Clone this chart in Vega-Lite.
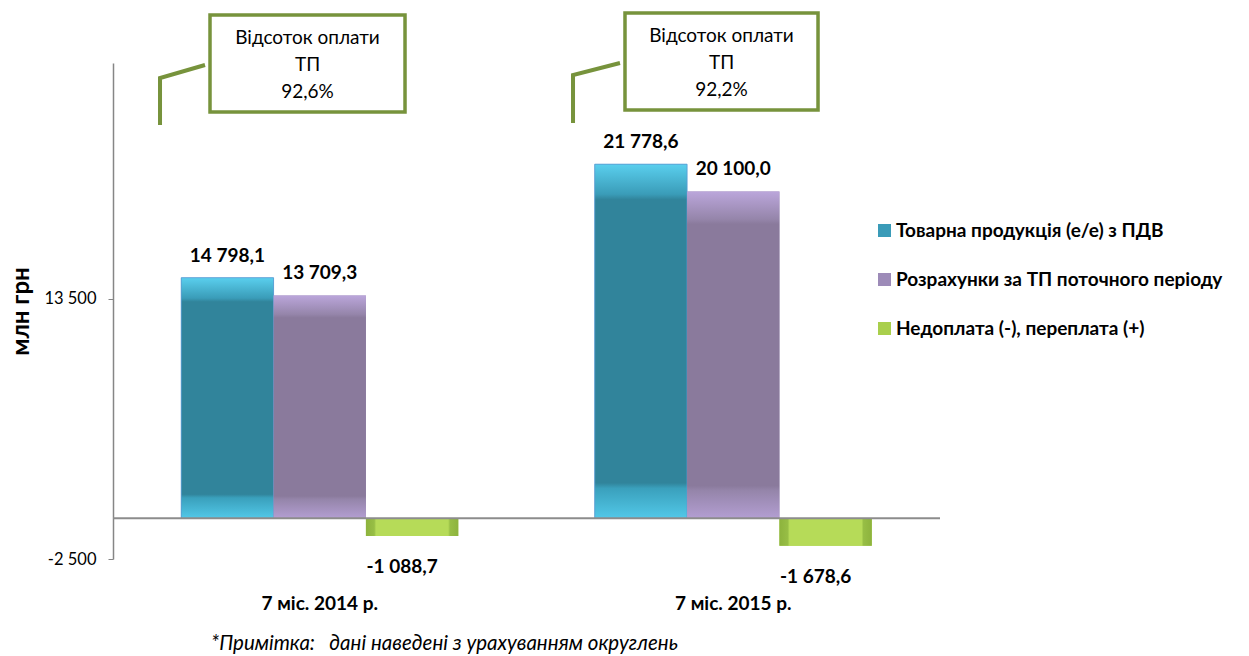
{
  "$schema": "https://vega.github.io/schema/vega-lite/v6.json",
  "width": 827,
  "height": 496,
  "autosize": "none",
  "padding": {"left": 113, "top": 63, "right": 309, "bottom": 97},
  "config": {
    "font": "Lato",
    "view": {"stroke": null},
    "locale": {"number": {"decimal": ",", "thousands": " ", "grouping": [3], "currency": ["", ""], "minus": "-"}}
  },
  "datasets": {
    "bars": [
      {"period": "7 міс. 2014 р.", "series": "Товарна продукція (е/е) з ПДВ", "value": 14798.1},
      {"period": "7 міс. 2014 р.", "series": "Розрахунки за ТП поточного періоду", "value": 13709.3},
      {"period": "7 міс. 2014 р.", "series": "Недоплата (-), переплата (+)", "value": -1088.7},
      {"period": "7 міс. 2015 р.", "series": "Товарна продукція (е/е) з ПДВ", "value": 21778.6},
      {"period": "7 міс. 2015 р.", "series": "Розрахунки за ТП поточного періоду", "value": 20100.0},
      {"period": "7 міс. 2015 р.", "series": "Недоплата (-), переплата (+)", "value": -1678.6}
    ],
    "boxes": [
      {"box": 1, "ax": 0.2346, "ax2": 0.7062, "v": 30952, "v2": 24987},
      {"box": 2, "ax": 1.2382, "ax2": 1.7050, "v": 31075, "v2": 25110}
    ],
    "boxtext": [
      {"box": 1, "ax": 0.4704, "v": 29537, "t": "Відсоток оплати"},
      {"box": 1, "ax": 0.4704, "v": 27877, "t": "ТП"},
      {"box": 1, "ax": 0.4704, "v": 26217, "t": "92,6%"},
      {"box": 2, "ax": 1.4716, "v": 29660, "t": "Відсоток оплати"},
      {"box": 2, "ax": 1.4716, "v": 28000, "t": "ТП"},
      {"box": 2, "ax": 1.4716, "v": 26340, "t": "92,2%"}
    ],
    "callout": [
      {"id": 1, "ord": 1, "ax": 0.1137, "v": 24188},
      {"id": 1, "ord": 2, "ax": 0.1137, "v": 27078},
      {"id": 1, "ord": 3, "ax": 0.2225, "v": 27877},
      {"id": 2, "ord": 1, "ax": 1.1125, "v": 24311},
      {"id": 2, "ord": 2, "ax": 1.1125, "v": 27262},
      {"id": 2, "ord": 3, "ax": 1.2261, "v": 28000}
    ]
  },
  "layer": [
    {
      "data": {"name": "bars"},
      "encoding": {
        "x": {
          "field": "period", "type": "nominal", "sort": null,
          "scale": {"paddingInner": 0.33, "paddingOuter": 0.165},
          "axis": {
            "title": "*Примітка:\u00a0\u00a0\u00a0дані наведені з урахуванням округлень",
            "titleFontStyle": "italic", "titleFontWeight": "normal", "titleFontSize": 20.5, "titleColor": "#000000",
            "titleX": 331, "titleY": 84, "titleBaseline": "middle", "titleAlign": "center",
            "domain": false, "ticks": false, "labelAngle": 0,
            "labelFontWeight": "bold", "labelFontSize": 19, "labelColor": "#000000", "labelPadding": 35
          }
        },
        "xOffset": {
          "field": "series", "type": "nominal", "sort": null,
          "scale": {"domain": ["Товарна продукція (е/е) з ПДВ", "Розрахунки за ТП поточного періоду", "Недоплата (-), переплата (+)"], "paddingInner": 0, "paddingOuter": 0}
        },
        "y": {
          "field": "value", "type": "quantitative",
          "scale": {"domain": [-2500, 28000], "nice": false, "zero": false},
          "axis": {
            "values": [-2500, 13500], "format": ",d", "grid": false,
            "domainColor": "#868686", "domainWidth": 1.5, "tickColor": "#868686", "tickSize": 5,
            "labelFontSize": 16.5, "labelColor": "#000000", "labelPadding": 12,
            "title": "млн грн", "titleFontSize": 24, "titleFontWeight": "bold", "titleColor": "#000000", "titlePadding": 10
          }
        }
      },
      "layer": [
        {
          "mark": {"type": "bar"},
          "encoding": {
            "color": {
              "field": "series", "type": "nominal", "sort": null,
              "scale": {"domain": ["Товарна продукція (е/е) з ПДВ", "Розрахунки за ТП поточного періоду", "Недоплата (-), переплата (+)"], "range": ["#3A9BB8", "#9D8BB8", "#A9CF4C"]},
              "legend": {
                "title": null, "orient": "none", "legendX": 762, "legendY": 158,
                "symbolType": "square", "symbolSize": 169, "symbolStrokeWidth": 0,
                "labelFontSize": 19, "labelFontWeight": "bold", "labelColor": "#000000", "labelLimit": 480,
                "labelOffset": 2, "rowPadding": 29
              }
            }
          }
        },
        {
          "transform": [{"filter": "datum.series == 'Товарна продукція (е/е) з ПДВ'"}],
          "mark": {"type": "bar", "fill": {"gradient": "linear", "x1": 0, "y1": 0, "x2": 0, "y2": 1, "stops": [
            {"offset": 0, "color": "#5ACFEE"}, {"offset": 0.085, "color": "#3A9CB8"}, {"offset": 0.1, "color": "#31849B"},
            {"offset": 0.9, "color": "#31849B"}, {"offset": 0.915, "color": "#3AA0BC"}, {"offset": 1, "color": "#52C8E8"}]}, "stroke": "#5B9BD5", "strokeWidth": 0.8}
        },
        {
          "transform": [{"filter": "datum.series == 'Розрахунки за ТП поточного періоду'"}],
          "mark": {"type": "bar", "fill": {"gradient": "linear", "x1": 0, "y1": 0, "x2": 0, "y2": 1, "stops": [
            {"offset": 0, "color": "#BBA6DB"}, {"offset": 0.085, "color": "#9585AA"}, {"offset": 0.1, "color": "#8A7A9C"},
            {"offset": 0.9, "color": "#8A7A9C"}, {"offset": 0.915, "color": "#9585AA"}, {"offset": 1, "color": "#B39ED2"}]}}
        },
        {
          "transform": [{"filter": "datum.series == 'Недоплата (-), переплата (+)'"}],
          "mark": {"type": "bar", "fill": {"gradient": "linear", "x1": 0, "y1": 0, "x2": 1, "y2": 0, "stops": [
            {"offset": 0, "color": "#8DB33D"}, {"offset": 0.09, "color": "#97BE45"}, {"offset": 0.11, "color": "#B6DB58"},
            {"offset": 0.89, "color": "#B6DB58"}, {"offset": 0.91, "color": "#97BE45"}, {"offset": 1, "color": "#8DB33D"}]}}
        },
        {
          "transform": [{"filter": "datum.value > 0"}],
          "mark": {"type": "text", "baseline": "bottom", "dy": -12, "fontSize": 19, "fontWeight": "bold", "color": "#000000"},
          "encoding": {"text": {"field": "value", "type": "quantitative", "format": ",.1f"}}
        },
        {
          "transform": [{"filter": "datum.value < 0"}],
          "mark": {"type": "text", "baseline": "top", "dy": 22, "dx": -10, "fontSize": 19, "fontWeight": "bold", "color": "#000000"},
          "encoding": {"text": {"field": "value", "type": "quantitative", "format": ",.1f"}}
        }
      ]
    },
    {
      "data": {"values": [{"zero": 0}]},
      "mark": {"type": "rule", "color": "#8C8C8C", "strokeWidth": 2},
      "encoding": {"y": {"field": "zero", "type": "quantitative"}}
    },
    {
      "data": {"name": "callout"},
      "mark": {"type": "line", "color": "#77933C", "strokeWidth": 4, "clip": false},
      "encoding": {
        "x": {"field": "ax", "type": "quantitative", "scale": {"domain": [0, 2], "nice": false, "zero": false}, "axis": null},
        "y": {"field": "v", "type": "quantitative"},
        "detail": {"field": "id"},
        "order": {"field": "ord"}
      }
    },
    {
      "data": {"name": "boxes"},
      "mark": {"type": "rect", "fill": "#FFFFFF", "stroke": "#77933C", "strokeWidth": 3.5, "clip": false},
      "encoding": {
        "x": {"field": "ax", "type": "quantitative", "scale": {"domain": [0, 2], "nice": false, "zero": false}, "axis": null},
        "x2": {"field": "ax2"},
        "y": {"field": "v", "type": "quantitative"},
        "y2": {"field": "v2"}
      }
    },
    {
      "data": {"name": "boxtext"},
      "mark": {"type": "text", "fontSize": 19, "color": "#000000", "baseline": "middle", "align": "center"},
      "encoding": {
        "x": {"field": "ax", "type": "quantitative", "scale": {"domain": [0, 2], "nice": false, "zero": false}, "axis": null},
        "y": {"field": "v", "type": "quantitative"},
        "text": {"field": "t"}
      }
    }
  ],
  "resolve": {"scale": {"x": "independent"}}
}
